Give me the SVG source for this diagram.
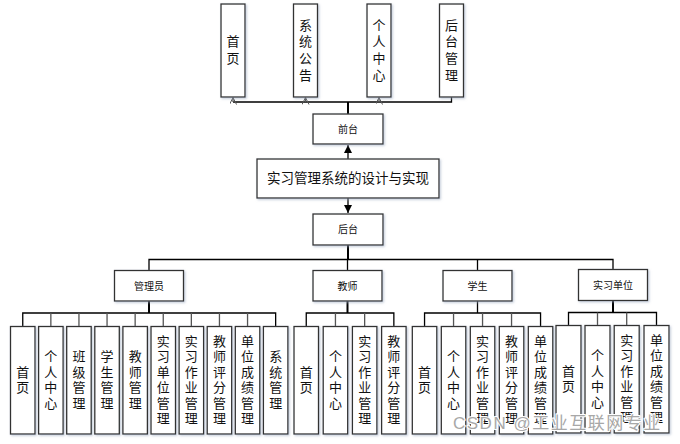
<svg xmlns="http://www.w3.org/2000/svg" width="680" height="444" viewBox="0 0 680 444">
<style>
.box{fill:#fff;stroke:#333;stroke-width:1.3;filter:url(#sh)}
.ln{fill:none;stroke:#000;stroke-width:1.3}
.lg{fill:none;stroke:#555;stroke-width:1.3}
.t{font-family:"Noto Sans CJK SC","Noto Sans",sans-serif;font-size:13px;fill:#111;text-anchor:middle}
.s{font-family:"Noto Sans CJK SC","Noto Sans",sans-serif;font-size:10px;fill:#111;text-anchor:middle}
.wm{font-family:"Liberation Sans","Noto Sans CJK SC",sans-serif;font-size:17px;fill:#a8a8a8;letter-spacing:1.5px;stroke:#fff;stroke-width:2.2;paint-order:stroke;stroke-linejoin:round}
</style>
<defs>
<filter id="sh" x="-20%" y="-20%" width="140%" height="140%">
<feDropShadow dx="1.2" dy="1.2" stdDeviation="0.8" flood-color="#9aa8c0" flood-opacity="0.6"/>
</filter>
<marker id="oa" markerWidth="10" markerHeight="10" refX="7" refY="3.5" orient="auto" markerUnits="userSpaceOnUse">
<path d="M0,0 L7,3.5 L0,7" fill="none" stroke="#555" stroke-width="1"/>
</marker>
<marker id="fa" markerWidth="10" markerHeight="10" refX="8" refY="4" orient="auto" markerUnits="userSpaceOnUse">
<path d="M0,0 L8,4 L0,8 Z" fill="#000"/>
</marker>
</defs>

<g id="connectors">
<path class="ln" d="M233,102 H451.5 V97"/>
<path class="lg" d="M233,102 V97.5" marker-end="url(#oa)"/>
<path class="lg" d="M305.5,102 V97.5" marker-end="url(#oa)"/>
<path class="lg" d="M379,102 V97.5" marker-end="url(#oa)"/>
<path class="ln" d="M348,114 V102" style="stroke-width:2"/>
<path class="ln" d="M348,159 V145" marker-end="url(#fa)"/>
<path class="ln" d="M348,198 V213" marker-end="url(#fa)"/>
<path class="ln" d="M348,245 V259.5" style="stroke-width:2"/>
<path class="ln" d="M149,270.5 V259.5 H613 V270"/>
<path class="ln" d="M347.5,259.5 V270.5"/>
<path class="ln" d="M477.5,259.5 V270.5"/>
<path class="ln" d="M149,301 V313" style="stroke-width:2"/>
<path class="ln" d="M22.75,326.5 V313 H275.65 V326.5"/>
<path class="lg" d="M50.85,313 V326.5 M78.95,313 V326.5 M107.05,313 V326.5 M135.15,313 V326.5 M163.25,313 V326.5 M191.35,313 V326.5 M219.45,313 V326.5 M247.55,313 V326.5"/>
<path class="ln" d="M347.5,301 V313" style="stroke-width:2"/>
<path class="ln" d="M306.25,326.5 V313 H393.85 V326.5"/>
<path class="lg" d="M335.45,313 V326.5 M364.65,313 V326.5"/>
<path class="ln" d="M477.5,301 V313"/>
<path class="ln" d="M424.55,326.5 V313 H540.55 V326.5"/>
<path class="lg" d="M453.55,313 V326.5 M482.55,313 V326.5 M511.55,313 V326.5"/>
<path class="ln" d="M613,300.5 V312.5" style="stroke-width:2"/>
<path class="ln" d="M568.5,325.5 V312.5 H656.5 V325.5"/>
<path class="lg" d="M597.5,312.5 V325.5 M626.7,312.5 V325.5"/>
</g>

<g id="top-shouye"><rect class="box" x="221" y="4" width="24" height="93"/>
<text class="t"><tspan x="233" y="46.2">首</tspan><tspan x="233" y="62.8">页</tspan></text></g>
<g id="top-gonggao"><rect class="box" x="293.5" y="4" width="24" height="93"/>
<text class="t"><tspan x="305.5" y="29.5">系</tspan><tspan x="305.5" y="46.2">统</tspan><tspan x="305.5" y="62.8">公</tspan><tspan x="305.5" y="79.5">告</tspan></text></g>
<g id="top-geren"><rect class="box" x="367" y="4" width="24" height="93"/>
<text class="t"><tspan x="379" y="29.5">个</tspan><tspan x="379" y="46.2">人</tspan><tspan x="379" y="62.8">中</tspan><tspan x="379" y="79.5">心</tspan></text></g>
<g id="top-houtai"><rect class="box" x="439.5" y="4" width="24" height="93"/>
<text class="t"><tspan x="451.5" y="29.5">后</tspan><tspan x="451.5" y="46.2">台</tspan><tspan x="451.5" y="62.8">管</tspan><tspan x="451.5" y="79.5">理</tspan></text></g>

<g id="qiantai"><rect class="box" x="313" y="114" width="70" height="30"/><text class="s" x="348" y="132.5">前台</text></g>
<g id="main"><rect class="box" x="257" y="159" width="182" height="39"/><text class="t" x="348" y="183.3" style="font-size:13.5px">实习管理系统的设计与实现</text></g>
<g id="houtai"><rect class="box" x="313" y="214" width="70" height="31"/><text class="s" x="348" y="233">后台</text></g>

<g id="admin"><rect class="box" x="114.5" y="270.5" width="69" height="30.5"/><text class="s" x="149" y="289.5">管理员</text></g>
<g id="teacher"><rect class="box" x="313" y="270.5" width="69" height="30.5"/><text class="s" x="347.5" y="289.5">教师</text></g>
<g id="student"><rect class="box" x="443" y="270.5" width="69" height="30.5"/><text class="s" x="477.5" y="289.5">学生</text></g>
<g id="unit"><rect class="box" x="578.5" y="269.5" width="69" height="31"/><text class="s" x="613" y="288.5">实习单位</text></g>

<g id="a1"><rect class="box" x="10.5" y="326.5" width="24.5" height="107.5"/>
<text class="t"><tspan x="22.75" y="376.75">首</tspan><tspan x="22.75" y="392.25">页</tspan></text></g>
<g id="a2"><rect class="box" x="38.6" y="326.5" width="24.5" height="107.5"/>
<text class="t"><tspan x="50.85" y="361.25">个</tspan><tspan x="50.85" y="376.75">人</tspan><tspan x="50.85" y="392.25">中</tspan><tspan x="50.85" y="407.75">心</tspan></text></g>
<g id="a3"><rect class="box" x="66.7" y="326.5" width="24.5" height="107.5"/>
<text class="t"><tspan x="78.95" y="361.25">班</tspan><tspan x="78.95" y="376.75">级</tspan><tspan x="78.95" y="392.25">管</tspan><tspan x="78.95" y="407.75">理</tspan></text></g>
<g id="a4"><rect class="box" x="94.8" y="326.5" width="24.5" height="107.5"/>
<text class="t"><tspan x="107.05" y="361.25">学</tspan><tspan x="107.05" y="376.75">生</tspan><tspan x="107.05" y="392.25">管</tspan><tspan x="107.05" y="407.75">理</tspan></text></g>
<g id="a5"><rect class="box" x="122.9" y="326.5" width="24.5" height="107.5"/>
<text class="t"><tspan x="135.15" y="361.25">教</tspan><tspan x="135.15" y="376.75">师</tspan><tspan x="135.15" y="392.25">管</tspan><tspan x="135.15" y="407.75">理</tspan></text></g>
<g id="a6"><rect class="box" x="151" y="326.5" width="24.5" height="107.5"/>
<text class="t"><tspan x="163.25" y="345.75">实</tspan><tspan x="163.25" y="361.25">习</tspan><tspan x="163.25" y="376.75">单</tspan><tspan x="163.25" y="392.25">位</tspan><tspan x="163.25" y="407.75">管</tspan><tspan x="163.25" y="423.25">理</tspan></text></g>
<g id="a7"><rect class="box" x="179.1" y="326.5" width="24.5" height="107.5"/>
<text class="t"><tspan x="191.35" y="345.75">实</tspan><tspan x="191.35" y="361.25">习</tspan><tspan x="191.35" y="376.75">作</tspan><tspan x="191.35" y="392.25">业</tspan><tspan x="191.35" y="407.75">管</tspan><tspan x="191.35" y="423.25">理</tspan></text></g>
<g id="a8"><rect class="box" x="207.2" y="326.5" width="24.5" height="107.5"/>
<text class="t"><tspan x="219.45" y="345.75">教</tspan><tspan x="219.45" y="361.25">师</tspan><tspan x="219.45" y="376.75">评</tspan><tspan x="219.45" y="392.25">分</tspan><tspan x="219.45" y="407.75">管</tspan><tspan x="219.45" y="423.25">理</tspan></text></g>
<g id="a9"><rect class="box" x="235.3" y="326.5" width="24.5" height="107.5"/>
<text class="t"><tspan x="247.55" y="345.75">单</tspan><tspan x="247.55" y="361.25">位</tspan><tspan x="247.55" y="376.75">成</tspan><tspan x="247.55" y="392.25">绩</tspan><tspan x="247.55" y="407.75">管</tspan><tspan x="247.55" y="423.25">理</tspan></text></g>
<g id="a10"><rect class="box" x="263.4" y="326.5" width="24.5" height="107.5"/>
<text class="t"><tspan x="275.65" y="361.25">系</tspan><tspan x="275.65" y="376.75">统</tspan><tspan x="275.65" y="392.25">管</tspan><tspan x="275.65" y="407.75">理</tspan></text></g>

<g id="t1"><rect class="box" x="294" y="326.5" width="24.5" height="107.5"/>
<text class="t"><tspan x="306.25" y="376.75">首</tspan><tspan x="306.25" y="392.25">页</tspan></text></g>
<g id="t2"><rect class="box" x="323.2" y="326.5" width="24.5" height="107.5"/>
<text class="t"><tspan x="335.45" y="361.25">个</tspan><tspan x="335.45" y="376.75">人</tspan><tspan x="335.45" y="392.25">中</tspan><tspan x="335.45" y="407.75">心</tspan></text></g>
<g id="t3"><rect class="box" x="352.4" y="326.5" width="24.5" height="107.5"/>
<text class="t"><tspan x="364.65" y="345.75">实</tspan><tspan x="364.65" y="361.25">习</tspan><tspan x="364.65" y="376.75">作</tspan><tspan x="364.65" y="392.25">业</tspan><tspan x="364.65" y="407.75">管</tspan><tspan x="364.65" y="423.25">理</tspan></text></g>
<g id="t4"><rect class="box" x="381.6" y="326.5" width="24.5" height="107.5"/>
<text class="t"><tspan x="393.85" y="345.75">教</tspan><tspan x="393.85" y="361.25">师</tspan><tspan x="393.85" y="376.75">评</tspan><tspan x="393.85" y="392.25">分</tspan><tspan x="393.85" y="407.75">管</tspan><tspan x="393.85" y="423.25">理</tspan></text></g>

<g id="s1"><rect class="box" x="412.3" y="326.5" width="24.5" height="107.5"/>
<text class="t"><tspan x="424.55" y="376.75">首</tspan><tspan x="424.55" y="392.25">页</tspan></text></g>
<g id="s2"><rect class="box" x="441.3" y="326.5" width="24.5" height="107.5"/>
<text class="t"><tspan x="453.55" y="361.25">个</tspan><tspan x="453.55" y="376.75">人</tspan><tspan x="453.55" y="392.25">中</tspan><tspan x="453.55" y="407.75">心</tspan></text></g>
<g id="s3"><rect class="box" x="470.3" y="326.5" width="24.5" height="107.5"/>
<text class="t"><tspan x="482.55" y="345.75">实</tspan><tspan x="482.55" y="361.25">习</tspan><tspan x="482.55" y="376.75">作</tspan><tspan x="482.55" y="392.25">业</tspan><tspan x="482.55" y="407.75">管</tspan><tspan x="482.55" y="423.25">理</tspan></text></g>
<g id="s4"><rect class="box" x="499.3" y="326.5" width="24.5" height="107.5"/>
<text class="t"><tspan x="511.55" y="345.75">教</tspan><tspan x="511.55" y="361.25">师</tspan><tspan x="511.55" y="376.75">评</tspan><tspan x="511.55" y="392.25">分</tspan><tspan x="511.55" y="407.75">管</tspan><tspan x="511.55" y="423.25">理</tspan></text></g>
<g id="s5"><rect class="box" x="528.3" y="326.5" width="24.5" height="107.5"/>
<text class="t"><tspan x="540.55" y="345.75">单</tspan><tspan x="540.55" y="361.25">位</tspan><tspan x="540.55" y="376.75">成</tspan><tspan x="540.55" y="392.25">绩</tspan><tspan x="540.55" y="407.75">管</tspan><tspan x="540.55" y="423.25">理</tspan></text></g>

<g id="u1"><rect class="box" x="556" y="325.5" width="25" height="107.5"/>
<text class="t"><tspan x="568.5" y="375.75">首</tspan><tspan x="568.5" y="391.25">页</tspan></text></g>
<g id="u2"><rect class="box" x="585" y="325.5" width="25" height="107.5"/>
<text class="t"><tspan x="597.5" y="360.25">个</tspan><tspan x="597.5" y="375.75">人</tspan><tspan x="597.5" y="391.25">中</tspan><tspan x="597.5" y="406.75">心</tspan></text></g>
<g id="u3"><rect class="box" x="614.2" y="325.5" width="25" height="107.5"/>
<text class="t"><tspan x="626.7" y="344.75">实</tspan><tspan x="626.7" y="360.25">习</tspan><tspan x="626.7" y="375.75">作</tspan><tspan x="626.7" y="391.25">业</tspan><tspan x="626.7" y="406.75">管</tspan><tspan x="626.7" y="422.25">理</tspan></text></g>
<g id="u4"><rect class="box" x="644" y="325.5" width="25" height="107.5"/>
<text class="t"><tspan x="656.5" y="344.75">单</tspan><tspan x="656.5" y="360.25">位</tspan><tspan x="656.5" y="375.75">成</tspan><tspan x="656.5" y="391.25">绩</tspan><tspan x="656.5" y="406.75">管</tspan><tspan x="656.5" y="422.25">理</tspan></text></g>

<text class="wm" x="453" y="429">CSDN @工业互联网专业</text>
</svg>
